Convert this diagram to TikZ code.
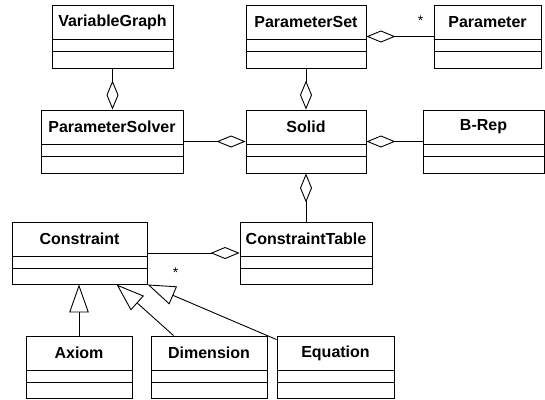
\documentclass[tikz,border=0pt]{standalone}
\usepackage{fontspec}
\setmainfont{Liberation Sans}
\usetikzlibrary{arrows.meta,calc}
\tikzset{
  cls/.style={draw, line width=0.9pt, inner sep=0pt, fill=white},
  clsname/.style={font=\fontsize{16}{18}\selectfont\bfseries, inner sep=0pt, anchor=center},
  sep/.style={line width=0.9pt},
  agg/.style={line width=0.9pt, {Diamond[open,length=29pt,width=12pt,fill=white]}-},
  gen/.style={line width=0.9pt, -{Triangle[open,length=28pt,width=19.5pt,fill=white]}},
  mult/.style={font=\fontsize{14}{15}\selectfont, inner sep=0pt}
}
\newcommand{\umlclass}[6]{%
  \node[cls, minimum width={#4pt-#2pt}, minimum height={#5pt-#3pt}] (#1) at ({(#2+#4)/2}, {-(#3+#5)/2}) {};
  \node[clsname] (#1-name) at ($(#1.north)+(0,-17.5)$) {#6};
  \draw[sep] ($(#1.north west)+(0,-34.5)$) coordinate (#1-a) -- (#1-a -| #1.east);
  \draw[sep] ($(#1.north west)+(0,-47)$) coordinate (#1-b) -- (#1-b -| #1.east);
}
\begin{document}
\begin{tikzpicture}[x=1pt,y=1pt]
\useasboundingbox (0,0) rectangle (545,-399);
\umlclass{VariableGraph}{52}{5}{173}{68}{VariableGraph}
\umlclass{ParameterSet}{246}{5}{366}{68}{ParameterSet}
\umlclass{Parameter}{434}{5}{541}{68}{Parameter}
\umlclass{ParameterSolver}{41}{110}{183}{173}{ParameterSolver}
\umlclass{Solid}{246}{110}{366}{173}{Solid}
\umlclass{BRep}{423}{110}{544}{173}{B-Rep}
\umlclass{Constraint}{12}{222}{147}{284}{Constraint}
\umlclass{ConstraintTable}{240}{222}{372}{284}{ConstraintTable}
\umlclass{Axiom}{26}{336}{132}{398}{Axiom}
\umlclass{Dimension}{151}{336}{267}{398}{Dimension}
\umlclass{Equation}{277}{336}{394}{398}{Equation}

% aggregations
\draw[agg] (ParameterSet.east) -- (Parameter.west);
\draw[agg] (VariableGraph.south |- ParameterSolver.north) -- (VariableGraph.south);
\draw[agg] (Solid.north) -- (ParameterSet.south);
\draw[agg] (Solid.west) -- (ParameterSolver.east);
\draw[agg] (Solid.east) -- (BRep.west);
\draw[agg] (Solid.south) -- (ConstraintTable.north);
\draw[agg] (ConstraintTable.west) -- (Constraint.east);

% generalizations
\draw[gen] (Axiom.north) -- (Axiom.north |- Constraint.south);
\coordinate (dimEnd) at ($(Dimension.north west)+(23,0)$);
\coordinate (dimTip) at ($(Constraint.south west)+(105,0)$);
\draw[gen] (dimEnd) -- (dimTip);
\coordinate (eqEnd) at ($(Equation.north west)+(0,-4)$);
\draw[gen] (eqEnd) -- (Constraint.south east);

% multiplicities
\node[mult, anchor=base] (m1) at (420.5,-25) {*};
\node[mult, anchor=base] (m2) at (175.5,-277.5) {*};
\end{tikzpicture}
\end{document}
